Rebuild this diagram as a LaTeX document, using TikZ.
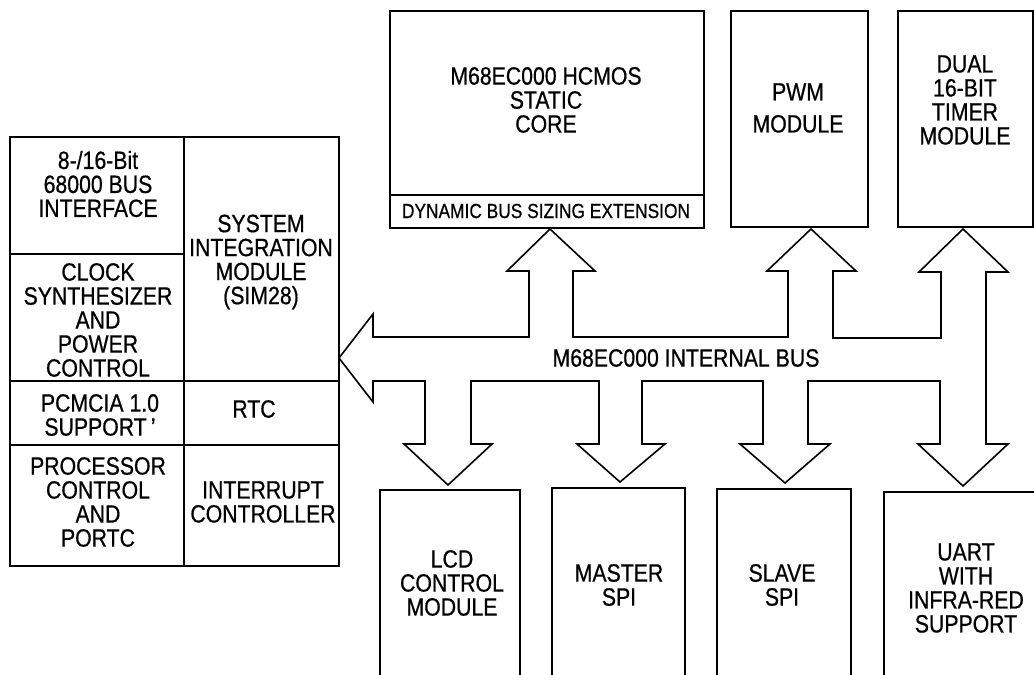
\documentclass[tikz,border=0pt]{standalone}
\usepackage{fontspec}
\setmainfont{Liberation Sans}[FakeStretch=0.85,FakeBold=0.6]
\begin{document}
\begin{tikzpicture}[x=1pt,y=-1pt,
  box/.style={draw, line width=1.6pt, inner sep=0pt, anchor=north west},
  lbl/.style={align=center, inner sep=0pt, font=\fontsize{25}{24}\selectfont},
  buspath/.style={draw, line width=1.6pt, line join=miter}]
\useasboundingbox (0,0) rectangle (1034,675);
\clip (0,0) rectangle (1034,675);
% top blocks
\node[box, minimum width=314pt, minimum height=184pt] (coretop) at (389,10) {};
\node[box, minimum width=314pt, minimum height=33pt] (dbse) at (389,194) {};
\node[box, minimum width=137pt, minimum height=216pt] (pwm) at (730,10) {};
\node[box, minimum width=135pt, minimum height=216pt] (timer) at (897,10) {};
% left block
\node[box, minimum width=174pt, minimum height=117pt] (busif) at (9,136) {};
\node[box, minimum width=174pt, minimum height=127pt] (clock) at (9,253) {};
\node[box, minimum width=174pt, minimum height=64pt] (pcmcia) at (9,380) {};
\node[box, minimum width=174pt, minimum height=121pt] (proc) at (9,444) {};
\node[box, minimum width=155pt, minimum height=244pt] (sim) at (183,136) {};
\node[box, minimum width=155pt, minimum height=64pt] (rtc) at (183,380) {};
\node[box, minimum width=155pt, minimum height=121pt] (intc) at (183,444) {};
% bottom blocks
\node[box, minimum width=140pt, minimum height=220pt] (lcd) at (379,489) {};
\node[box, minimum width=133pt, minimum height=220pt] (master) at (551,487) {};
\node[box, minimum width=134pt, minimum height=220pt] (slave) at (716,488) {};
\node[box, minimum width=170pt, minimum height=220pt] (uart) at (883,491) {};
% labels
\node[lbl] (tcore) at (546,100) {M68EC000 HCMOS\\STATIC\\CORE};
\node[lbl, font=\fontsize{20.4}{22}\selectfont] (tdbse) at (546,211) {DYNAMIC BUS SIZING EXTENSION};
\node[lbl, font=\fontsize{25}{32}\selectfont] (tpwm) at (798,108) {PWM\\MODULE};
\node[lbl] (ttimer) at (965,100) {DUAL\\16-BIT\\TIMER\\MODULE};
\node[lbl] (tbusif) at (98,184) {8-/16-Bit\\68000 BUS\\INTERFACE};
\node[lbl] (tclock) at (98,320) {CLOCK\\SYNTHESIZER\\AND\\POWER\\CONTROL};
\node[lbl] (tpcmcia) at (100,415) {PCMCIA 1.0\\SUPPORT\,'};
\node[lbl] (tproc) at (98,502) {PROCESSOR\\CONTROL\\AND\\PORTC};
\node[lbl] (tsim) at (261,262) {SYSTEM\\INTEGRATION\\MODULE\\(SIM28)};
\node[lbl] (trtc) at (254,409) {RTC};
\node[lbl] (tintc) at (263,502) {INTERRUPT\\CONTROLLER};
\node[lbl] (tbus) at (686,358) {M68EC000 INTERNAL BUS};
\node[lbl] (tlcd) at (452,583) {LCD\\CONTROL\\MODULE};
\node[lbl] (tmaster) at (619,585) {MASTER\\SPI};
\node[lbl] (tslave) at (782,585) {SLAVE\\SPI};
\node[lbl] (tuart) at (966,588) {UART\\WITH\\INFRA-RED\\SUPPORT};
% internal bus
\path[buspath] (339,358) -- (373,314) -- (373,337) -- (529,337) -- (529,271) -- (507,271)
  -- (550,229) -- (595,271) -- (573,271) -- (573,337) -- (788,337) -- (788,271)
  -- (767,271) -- (811,229) -- (856,271) -- (833,271) -- (833,338) -- (941,338)
  -- (941,272) -- (919,272) -- (963,229) -- (1008,272) -- (986,272) -- (986,444)
  -- (1008,444) -- (963,486) -- (918,444) -- (940,444) -- (940,381) -- (808,381)
  -- (808,444) -- (830,444) -- (785,483) -- (740,444) -- (763,444) -- (763,381)
  -- (642,381) -- (642,444) -- (665,444) -- (620,482) -- (577,444) -- (599,444)
  -- (599,381) -- (471,381) -- (471,444) -- (492,444) -- (448,485) -- (404,444)
  -- (425,444) -- (425,381) -- (373,381) -- (373,402) -- cycle;
\end{tikzpicture}
\end{document}
